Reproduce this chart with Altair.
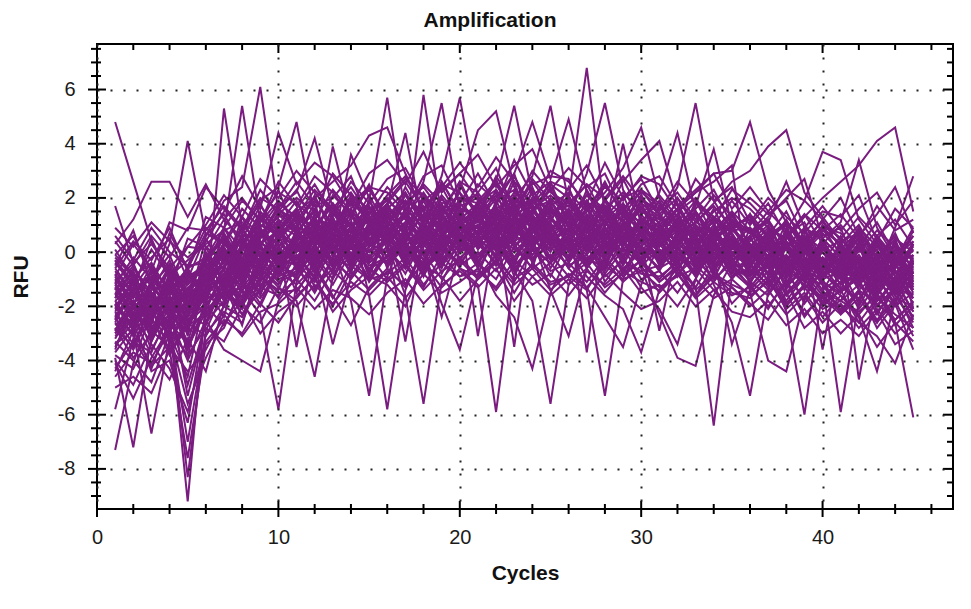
import altair as alt
import pandas as pd

# ---------------- data (RFU per cycle) ----------------
cycles = list(range(1, 46))

w01 = [4.8,2.6,0.4,-0.8,-1.2, -0.3,0.5,-0.6,1.2,0.8, 1.6,0.2,1.1,-0.4,0.9, 1.8,0.6,2.1,1.0,0.3, 1.5,2.2,0.7,1.9,1.2, 2.0,6.8,1.4,0.5,1.1, 0.2,1.0,-0.5,0.8,0.1, 0.6,-0.9,0.4,-0.2,-1.0, 0.3,-1.2,-0.4,-1.6,-0.7]
w02 = [-0.5,0.8,-1.2,0.3,4.1, 0.6,1.9,2.4,6.1,1.5, 2.3,0.9,1.7,0.2,1.3, 0.5,1.9,0.8,2.6,1.4, 0.6,1.8,2.9,0.9,1.7, 0.4,1.3,-0.2,0.8,1.6, 0.9,-0.4,0.6,1.1,-0.3, 0.2,0.9,-0.6,0.5,-0.8, -0.2,0.7,-1.1,0.1,-0.9]
w03 = [-2.8,-3.5,-1.9,-2.6,-9.2, -1.8,5.3,0.9,1.8,0.4, 1.4,-0.3,0.8,1.5,0.2, 1.1,0.3,1.6,-0.2,1.9, 2.1,0.6,1.3,2.4,0.8, 1.5,0.2,2.0,0.7,-0.4, 1.0,0.3,1.4,-0.6,0.5, -0.8,0.4,-1.3,0.9,-0.5, -1.4,0.2,-0.9,-1.9,-0.3]
w04 = [-7.3,-4.1,-2.2,-3.0,-4.6, -1.5,0.8,5.4,1.1,2.3, 0.6,1.8,-0.2,2.0,1.2, 0.4,2.2,1.1,0.3,2.5, 1.2,-0.3,2.0,1.4,2.6, 0.9,1.8,0.3,2.1,0.6, -0.2,1.3,0.4,-0.8,0.9, 0.1,-1.1,0.7,-0.4,0.3, -1.0,-0.2,-1.7,0.5,-1.3]
w05 = [-3.9,-7.2,-3.1,-1.7,-5.3, -2.6,-0.9,-1.8,-0.4,0.9, -0.5,1.2,0.3,-0.8,1.9, 5.7,1.4,0.2,1.7,0.5, 1.9,0.4,1.6,-0.3,1.0, -0.2,1.1,0.5,1.8,-0.5, 0.7,-0.9,0.2,1.0,-0.6, -1.2,0.3,-0.7,-1.8,0.2, -0.6,-1.9,-0.3,-1.1,-2.2]
w06 = [-4.4,-2.9,-6.7,-3.2,-2.1, -1.3,-2.4,0.2,-1.1,1.2, -0.7,0.9,1.8,0.4,-0.3, 1.5,0.6,5.8,1.3,2.2, 0.5,1.7,0.3,2.0,0.8, 1.6,0.2,1.2,-0.3,1.4, 0.5,1.6,-0.4,0.3,1.2, 0.8,-0.5,0.2,-1.4,-0.2, -0.9,0.4,-1.5,-0.6,0.2]
w07 = [-5.8,-3.2,-4.3,-2.5,-8.3, -2.9,-1.4,-2.1,0.3,-0.9, 0.8,-0.6,1.4,0.9,2.1, 0.9,2.4,1.2,2.8,5.7, 2.0,1.1,2.6,0.7,1.9, 0.7,2.3,1.1,0.4,2.0, 1.4,0.2,1.9,0.6,-0.1, 0.5,1.2,-0.4,0.8,-0.7, 0.1,-0.8,0.6,-0.4,-1.5]
w08 = [-1.2,-2.3,-0.6,-1.9,-2.7, -1.6,-0.2,-1.4,-2.3,-5.8, -1.1,0.3,-0.8,1.0,-0.4, 0.2,1.1,2.6,5.5,1.6, 1.3,2.7,0.8,1.5,2.3, 1.2,0.5,1.9,1.4,0.3, 1.7,0.8,0.1,1.3,0.7, -0.3,0.6,1.0,-0.9,0.4, -0.5,0.8,-0.2,-1.2,0.3]
w09 = [-0.8,-1.9,-2.5,-0.9,-3.1, 0.2,-1.2,0.7,1.9,2.4, 4.8,1.3,0.1,-1.8,-5.3, -0.9,0.8,-0.3,1.2,0.6, -0.4,0.9,1.8,0.3,1.1, 2.4,0.8,-0.1,1.3,0.9, -0.5,0.6,1.5,0.2,-0.8, 0.9,-0.2,0.6,1.1,-0.4, 0.6,-0.7,0.2,-0.3,0.9]
w10 = [-2.1,-1.0,-3.3,-1.6,-0.7, -1.9,0.4,-0.8,0.6,1.7, 2.2,4.2,1.6,0.5,1.9, 0.7,-0.4,1.3,0.4,-0.6, -1.2,-5.9,-0.8,0.6,-0.3, 0.6,-0.5,0.9,-0.2,1.3, 0.0,-0.7,0.8,-0.3,0.6, -0.4,-1.3,0.2,-0.8,-1.6, -1.1,-0.3,-2.0,-0.9,-1.7]
w11 = [-1.5,-2.6,-1.1,-3.4,-2.0, 0.5,-0.7,1.3,-0.2,1.0, 1.9,0.4,3.9,1.2,-1.6, -5.8,-1.4,0.3,-0.6,0.9, 0.2,1.6,-0.5,1.2,0.4, -0.3,0.9,1.6,0.1,0.7, 1.1,-0.2,0.5,1.6,0.3, -0.6,0.7,-0.9,0.2,-1.2, -1.8,-0.6,0.1,-1.3,-0.5]
w12 = [-3.6,-1.8,-2.7,-0.4,-3.9, -0.6,0.9,-0.3,1.4,-0.5, 0.7,1.6,0.2,3.6,2.0, 0.3,-1.6,-5.6,-1.1,0.2, 0.8,1.4,0.3,-0.6,1.5, 1.0,-0.4,0.8,1.5,0.0, 0.4,1.2,-0.3,0.6,1.4, 0.2,-0.4,1.1,0.3,-0.9, 0.4,-1.0,-0.4,0.7,-0.8]
w13 = [-1.1,-0.4,-2.0,-1.3,-2.4, -0.1,-1.5,0.4,-0.6,0.7, 1.5,2.0,2.6,3.2,4.3, 4.6,2.9,1.5,0.7,1.2, 0.1,0.8,-0.7,-1.8,-5.6, -1.2,0.4,-0.6,0.9,0.2, -0.7,0.5,-0.2,-1.0,0.4, -0.9,0.2,-0.5,-1.1,0.1, -0.3,-1.4,-0.8,0.3,-1.2]
w14 = [-2.3,-3.0,-1.5,-2.8,-1.7, -0.9,0.2,-1.0,0.9,-0.2, 0.3,-0.5,1.1,-0.1,0.8, 1.7,4.4,0.9,2.0,1.1, 1.6,0.2,1.1,2.2,0.5, 0.3,-1.4,-5.3,-1.0,0.5, 0.8,1.4,0.2,-0.4,0.9, 1.3,0.1,0.7,-0.6,0.5, -0.2,0.5,-0.9,-0.1,-1.4]
w15 = [-0.9,-2.1,-1.4,-0.3,-1.8, -1.1,0.7,-0.4,0.5,1.6, 0.9,2.1,0.6,1.4,0.2, 1.3,0.4,1.9,0.8,2.3, 4.5,5.2,2.4,1.1,1.9, 0.9,1.6,0.6,1.2,0.4, 0.5,-0.6,-1.3,-6.4,-0.9, -0.2,0.6,-0.8,0.3,-1.0, -0.7,0.2,-1.3,-0.5,-0.1]
w16 = [-1.7,-0.9,-2.8,-2.0,-3.3, -1.2,-0.3,0.6,-0.7,1.1, 0.1,1.4,0.8,2.1,1.0, 2.0,1.2,0.4,1.6,0.9, 1.7,2.6,5.4,2.1,1.4, 1.9,0.7,1.4,0.2,1.2, 0.6,1.1,-0.3,0.4,-0.7, -1.3,-0.5,-2.2,-6.0,-1.4, -0.4,-1.1,0.3,-0.9,-1.6]
w17 = [-2.5,-1.4,-0.8,-2.2,-1.0, -0.4,-1.3,0.1,0.8,-0.6, 0.5,-0.2,1.5,0.3,1.7, 0.1,1.5,0.6,-0.2,1.3, 0.7,1.2,2.0,2.8,5.4, 1.8,1.0,0.4,1.7,0.8, 1.3,0.3,0.9,-0.2,0.6, -0.5,0.4,-0.9,-0.3,-1.2, -5.9,-1.8,-0.6,-1.4,-0.4]
w18 = [-1.9,-2.7,-1.0,-1.6,-2.9, -0.7,-1.8,-0.5,0.4,-0.3, 0.2,0.8,-0.4,0.7,1.3, 0.9,2.1,1.3,0.5,1.8, 1.1,2.0,2.9,4.8,2.7, 4.9,2.2,1.0,1.6,0.6, 0.2,1.0,0.5,-0.5,0.3, -0.7,-1.4,-0.2,-1.0,-1.9, -0.8,-2.1,-1.2,-2.6,-6.1]
w19 = [-1.0,-1.7,-0.5,-2.4,-1.5, -0.2,0.6,-0.9,0.3,0.8, -0.3,0.6,0.9,-0.5,0.4, 1.0,-0.1,0.7,1.5,0.2, 1.4,0.5,1.7,0.9,2.0, 1.3,2.9,5.5,2.3,1.2, 0.7,-0.3,0.4,-1.2,-2.6, -5.3,-1.5,-0.6,-1.2,0.2, -0.9,-0.2,-1.6,-0.7,-1.9]
w20 = [-2.2,-1.1,-2.9,-1.4,-0.6, -1.7,-0.6,0.9,-0.5,0.2, 0.9,-0.4,0.3,1.1,-0.2, 0.5,-1.2,0.1,-1.9,-3.6, -0.8,0.7,1.2,-0.4,0.9, 0.8,1.5,2.2,3.1,4.6, 2.0,1.1,0.6,1.3,0.1, 0.4,1.0,-0.3,0.6,-0.5, 0.2,-0.9,0.5,-0.6,0.8]
w21 = [-1.3,-2.2,-3.0,-1.1,-2.6, -2.0,-1.0,-1.9,-0.6,-1.3, -1.8,-4.6,-0.9,0.4,-0.7, 0.8,0.3,-0.5,1.1,0.6, 0.3,1.5,0.7,1.8,0.2, 1.1,0.0,1.5,0.8,1.6, 1.2,2.4,5.5,1.9,0.8, 0.3,-0.6,0.8,-0.2,-0.9, -0.4,0.5,-0.8,-1.5,-0.1]
w22 = [-0.6,-1.5,-1.8,-2.9,-2.3, -1.4,0.1,-0.7,1.3,0.5, 1.1,-0.8,0.5,0.9,1.4, -0.6,0.7,-0.3,0.5,1.4, -0.3,-1.6,-2.4,-4.3,-1.5, -0.1,0.6,-0.5,1.1,-0.3, 0.9,1.6,2.2,2.9,3.0, 4.8,2.3,1.1,0.4,0.9, -0.1,0.7,-0.6,0.1,-0.8]
w23 = [-1.6,-0.7,-2.3,-1.8,-0.9, -0.5,-1.7,0.3,-0.4,0.6, -0.6,0.7,-0.3,1.6,0.5, 0.4,1.6,0.9,-0.4,0.7, 0.9,-0.2,0.5,1.3,-0.6, 0.4,1.2,-0.2,0.6,1.9, -0.1,0.5,1.1,1.8,2.6, 3.0,3.9,4.5,2.2,1.3, 0.4,-4.7,-1.1,-0.3,-1.0]
w24 = [-2.0,-2.8,-1.2,-0.5,-2.2, -0.8,-0.1,-1.2,0.7,-0.4, 0.6,-0.1,1.3,-0.3,0.9, -0.2,0.9,-0.7,0.4,1.0, 0.5,-0.5,0.9,0.2,1.1, -0.4,0.6,-1.1,-0.2,-1.3, -2.1,-3.4,-1.0,0.3,-0.5, 0.1,-0.8,0.5,1.3,2.0, 2.6,3.2,4.1,4.6,1.5]
w25 = [-1.4,-0.5,-1.7,-2.7,-1.1, -0.3,0.5,-1.1,0.2,-0.8, 0.4,1.0,-0.6,0.3,1.5, 0.6,-0.3,1.0,0.2,-0.4, 0.4,0.9,-0.9,0.5,-1.4, -3.1,-0.6,0.4,-0.8,0.5, -0.4,0.7,-0.6,0.5,1.1, 0.7,1.5,2.3,1.9,3.7, 3.4,1.2,0.3,-0.4,0.6]
w26 = [-2.6,-1.3,-0.4,-2.1,-1.6, -1.0,-2.0,-0.2,-1.3,0.1, -1.5,-0.4,-3.4,-0.9,0.1, -0.4,0.5,1.4,0.0,0.8, 1.0,0.1,1.4,0.6,0.3, 0.5,1.9,0.7,-0.4,0.9, 0.3,-0.5,0.8,0.0,-1.0, -0.2,0.8,0.1,-0.7,0.5, 1.1,3.4,0.9,-0.2,0.4]
w27 = [-0.7,-1.6,-0.9,-1.5,-0.8, -0.9,-0.4,0.5,-0.9,0.4, -0.2,0.5,0.7,-0.6,0.6, 1.2,0.0,0.5,0.9,-0.3, 0.6,0.3,-0.4,1.0,0.7, 0.1,-0.9,-1.6,-2.1,-3.7, -1.4,-0.6,0.1,-0.7,0.2, -0.1,-0.6,0.3,-0.5,0.0, -0.6,0.3,-0.7,0.9,2.8]
w28 = [-3.2,-2.0,-1.6,-0.7,-1.9, -1.6,-0.8,-0.1,0.1,-0.4, 0.0,0.9,-0.1,0.6,-0.5, -0.2,0.4,0.8,-0.8,0.4, -0.1,0.6,0.1,-0.3,0.4, -0.6,-1.3,-2.4,-3.5,-1.2, 0.3,0.9,1.7,3.8,1.0, 0.0,-0.3,0.6,-0.4,0.2, -0.3,0.9,-0.5,0.2,-0.6]
w29 = [-1.8,-1.2,-2.4,-0.8,-1.4, -0.2,-1.1,0.0,-0.8,0.5, 0.3,-0.7,0.4,0.1,0.7, 0.9,0.1,-0.6,0.3,0.8, 1.2,0.4,0.0,0.7,1.3, 0.2,0.9,1.3,2.6,3.4, 4.1,1.8,0.2,-0.5,0.0, -1.1,-0.3,-1.6,-0.7,-2.0, -1.4,-2.6,-3.1,-4.1,-2.3]
w30 = [-2.4,-3.4,-2.0,-1.2,-3.5, -2.2,-0.5,-1.5,0.8,-0.1, 0.5,1.2,-0.1,0.5,0.8, 0.6,1.3,0.2,1.0,0.4, 0.8,1.1,0.6,1.6,0.5, 1.5,0.3,0.9,4.0,1.0, 2.2,4.4,1.5,0.6,0.3, -0.4,0.3,-0.7,0.1,-1.1, -1.6,-2.4,-4.4,-1.8,-0.6]
w31 = [-1.1,-2.4,-1.5,-3.3,-2.8, -1.5,-0.3,-0.8,1.0,0.6, 1.2,0.2,1.0,-0.2,1.1, 0.3,1.0,0.5,1.3,0.7, 0.2,1.3,0.4,0.8,0.0, 1.4,0.5,1.1,0.3,-0.2, 0.8,1.6,2.2,2.6,3.2, -1.5,-4.0,-4.4,-1.7,-0.6, -0.2,-1.0,0.4,-0.7,-1.1]
w32 = [-0.3,-1.1,-2.6,-1.0,-2.0, -0.6,0.3,-0.4,0.5,1.4, 0.7,0.0,0.9,1.9,0.3, 1.5,0.7,1.7,0.6,1.1, 1.6,0.7,1.9,0.4,1.2, 0.6,1.4,0.5,1.0,-0.6, -2.3,-3.9,-4.2,-1.6,-0.4, 0.6,1.3,2.0,2.7,0.5, -0.8,0.1,-0.5,-1.0,0.4]
w33 = [-3.0,-2.4,-3.8,-4.7,-3.2, -4.4,-1.9,-0.6,-1.6,0.2, -0.5,0.8,0.1,0.8,-0.9, 0.7,-0.5,0.9,0.1,1.5, 1.5,0.0,1.0,1.7,0.6, 0.3,0.8,1.7,0.5,0.7, -0.3,0.4,1.0,0.1,0.8, 0.9,0.0,-0.8,0.4,-0.3, -1.2,0.1,-0.3,-1.8,-0.9]
w34 = [-2.9,-1.9,-3.6,-2.4,-4.0, -2.5,-3.6,-4.0,-4.4,-1.8, -0.9,0.5,-0.5,1.0,-0.8, 0.8,-0.2,1.1,-0.3,0.6, -0.5,0.9,0.2,1.0,-0.2, 0.9,-0.3,0.2,1.1,-0.1, 0.4,-0.4,0.6,-0.9,0.2, -0.6,0.5,-1.1,-0.5,-1.4, -0.9,-0.4,-1.8,-1.1,-0.3]
w35 = [-5.0,-4.6,-5.2,-3.6,-7.6, -3.4,-2.8,-1.2,-2.0,-0.6, -0.1,-1.0,0.6,-0.4,0.4, 1.4,0.2,-0.4,1.4,0.1, 1.8,1.0,-0.2,0.8,1.6, 1.1,0.1,0.9,-0.5,0.8, 1.0,0.0,-0.8,0.7,1.5, 0.2,-0.8,0.9,-0.1,1.0, 0.5,-0.3,-1.1,0.4,-2.1]
w36 = [-4.1,-5.4,-3.9,-2.8,-7.0, -3.0,-2.2,-2.6,-0.9,-1.4, 0.3,-1.3,-0.6,0.2,-1.0, -0.1,0.8,-0.9,0.6,1.7, 0.1,1.9,0.6,2.3,1.3, 2.1,0.9,1.6,1.2,0.1, -0.6,0.8,-0.1,0.9,-0.4, -0.8,0.2,-1.4,0.6,-0.7, -1.5,-0.5,-2.2,-1.4,-2.8]
w37 = [-3.4,-2.6,-4.4,-4.0,-6.3, -2.3,-1.2,-2.7,-0.3,-1.1, -0.8,0.6,-0.3,-0.5,0.7, 1.6,-0.6,0.6,2.0,0.8, 0.9,2.3,1.3,0.2,1.8, 0.2,1.7,-0.4,0.9,2.1, 0.6,2.0,0.9,0.3,-0.2, 1.4,-0.3,0.4,-1.1,0.6, 0.9,-0.9,-0.1,-1.6,-0.4]
w38 = [1.7,-0.4,0.3,-0.6,0.2, 1.0,2.1,1.3,2.7,2.0, 3.0,2.2,1.4,2.6,1.8, 2.7,3.1,1.9,2.4,3.3, 2.4,3.5,2.6,1.8,3.0, 2.6,1.8,3.3,2.0,2.7, 1.5,2.6,1.8,1.2,2.3, 1.8,1.1,2.6,0.9,1.7, 0.8,1.6,2.2,1.0,1.9]
w39 = [0.9,0.2,1.1,0.4,-0.2, 0.4,1.5,2.8,1.6,4.4, 2.5,3.3,2.8,1.7,2.9, 3.4,2.5,3.7,2.2,2.9, 3.6,2.4,3.2,3.8,2.3, 3.1,2.4,2.9,1.5,2.5, 2.8,1.7,2.3,2.9,1.6, 2.4,1.5,0.8,1.9,1.2, 2.0,0.6,1.4,2.4,0.7]
w40 = [0.3,1.2,2.6,2.6,1.3, 2.5,1.2,2.0,1.1,2.6, 1.7,2.8,2.2,1.3,2.4, 2.2,1.5,2.8,3.2,1.8, 2.9,1.7,3.4,2.1,2.6, 2.3,3.2,1.9,2.7,1.4, 2.1,1.3,2.7,1.9,2.4, 1.1,2.0,1.3,0.7,1.5, 1.3,2.1,0.4,1.6,0.9]
w41 = [-0.1,0.6,-0.7,1.1,0.8, 2.4,1.6,0.8,2.3,1.4, 2.0,1.5,2.9,2.1,1.6, 1.9,2.7,2.1,1.4,2.6, 2.2,3.1,1.5,2.7,1.9, 1.7,2.5,2.0,2.8,1.9, 1.6,2.2,1.2,2.1,1.3, 2.0,1.4,1.9,0.5,1.1, 0.5,1.3,0.6,1.2,0.2]
w42 = [-3.8,-4.3,-2.9,-3.5,-4.4, -3.6,-2.3,-3.1,-2.2,-1.9, -1.3,-2.1,-1.4,-1.7,-2.3, -1.5,-1.0,-1.9,-1.2,-0.7, -1.3,-0.6,-1.8,-0.9,-1.6, -1.0,-1.7,-0.8,-1.5,-2.1, -1.8,-1.1,-2.0,-1.4,-2.2, -2.4,-1.8,-2.7,-2.1,-3.0, -2.5,-3.1,-2.2,-3.4,-2.9]
w43 = [-4.6,-3.7,-4.1,-2.9,-3.8, -2.8,-3.3,-2.0,-2.6,-1.3, -2.0,-1.2,-1.9,-1.1,-1.6, -0.9,-1.7,-0.8,-1.5,-1.1, -0.6,-1.4,-0.5,-1.2,-0.8, -1.6,-0.7,-1.2,-0.6,-1.5, -1.2,-2.0,-1.0,-1.7,-1.3, -1.9,-2.5,-1.5,-2.8,-2.2, -3.0,-2.3,-3.5,-2.6,-3.3]
w44 = [-3.3,-4.0,-4.8,-3.0,-5.6, -3.9,-2.6,-1.8,-3.0,-2.2, -1.7,-0.9,-2.2,-1.4,-0.9, -1.2,-2.0,-0.5,-0.9,-1.8, -1.0,-0.3,-1.5,-0.4,-1.1, -0.9,-1.4,-0.3,-1.1,-0.5, -1.5,-0.8,-1.6,-0.5,-1.9, -1.2,-2.1,-1.0,-2.3,-1.6, -2.2,-1.4,-2.8,-1.9,-3.6]
w45 = [-1.4,-0.8,-2.1,-1.2,-1.9, -0.7,0.1,-0.6,0.8,0.3, -3.5,0.3,1.2,0.5,0.0, 1.1,0.5,1.4,0.9,1.5, 0.7,1.4,1.1,0.5,1.6, 1.0,0.4,1.2,0.7,0.2, 0.9,0.1,0.7,0.4,-0.3, 0.3,-0.4,0.1,-0.8,0.4, -0.7,-0.1,-1.0,-0.5,-1.2]
w46 = [-2.0,-1.4,-1.0,-2.5,-1.3, -1.1,-0.5,0.2,-0.3,1.0, 0.6,1.1,0.0,1.3,0.7, 0.3,-3.3,0.6,1.8,0.4, 1.2,0.6,1.5,1.1,0.4, 1.3,0.6,0.1,1.0,0.7, 0.2,0.8,-0.2,0.5,0.9, -0.1,0.7,-0.5,0.2,-0.6, -0.3,-1.1,-0.2,-0.8,0.1]
w47 = [-1.0,-1.9,-1.3,-2.0,-0.5, -0.4,-1.0,0.3,0.0,-0.2, 0.4,-0.3,0.7,1.1,0.2, 0.8,0.2,1.0,0.3,1.2, 0.3,1.0,-3.5,1.3,0.6, 0.7,1.3,0.3,0.6,1.1, -0.1,0.6,0.3,-0.4,0.5, -0.3,0.4,-0.9,0.0,-0.4, -1.0,-0.6,-1.4,-0.2,-1.1]
w48 = [-2.7,-2.1,-1.8,-1.4,-2.5, -1.9,-1.3,-0.8,-1.0,0.0, -0.3,0.4,0.5,-0.2,0.3, 0.0,0.6,-0.1,-2.4,0.1, 0.5,-0.1,0.8,0.3,0.9, 0.0,0.5,-0.3,0.4,-0.2, 0.1,-0.3,0.2,-0.6,-0.1, -0.5,-1.0,-0.3,-1.3,-0.8, -1.3,-1.7,-0.9,-2.0,-1.5]
w49 = [-0.4,-1.2,0.1,-0.9,-0.3, 0.3,0.8,1.1,0.6,1.3, 1.4,0.9,1.8,1.0,1.5, 1.9,1.3,2.2,1.2,1.7, 2.0,1.3,2.2,1.6,2.1, 1.5,-3.7,1.2,1.8,1.0, 1.4,0.7,1.1,0.8,1.5, 0.8,0.3,1.2,0.0,0.7, 0.0,-0.5,0.5,-0.3,-0.9]
w50 = [-1.5,-1.0,-1.7,-0.6,-1.2, -0.5,-0.2,0.4,1.0,0.7, 0.2,1.0,0.4,0.8,1.2, 1.4,0.8,0.3,1.0,1.4, -3.1,0.8,1.3,1.9,1.0, 0.8,1.1,0.6,0.3,0.9, 0.5,1.0,0.0,0.6,0.3, 0.0,-0.5,0.3,-0.3,-0.9, -0.5,0.2,-0.7,-1.2,-0.4]
w51 = [-2.9,-1.6,-2.2,-1.9,-0.8, -1.3,0.0,-0.5,0.3,0.1, -0.4,0.1,-0.7,0.6,0.0, 0.5,-0.2,0.4,-0.5,0.3, -0.2,0.3,-0.6,0.1,-0.4, 0.2,-0.3,0.6,-0.1,0.4, -2.9,0.2,-0.8,0.0,-0.6, -0.9,-0.1,-1.2,-0.6,-1.5, -1.8,-1.2,-2.0,-1.3,-2.4]
w52 = [-0.2,-0.9,-0.4,-1.5,-0.6, 0.7,0.3,1.6,0.9,1.8, 1.3,2.3,1.6,2.4,1.4, 2.4,1.7,2.5,1.8,2.0, 1.8,2.5,1.4,2.6,1.7, 2.2,1.5,2.6,1.3,2.3, 1.8,1.0,1.6,2.3,1.0, 1.2,0.6,1.5,0.2,0.9, 0.3,1.0,-0.2,0.6,-0.4]
w53 = [-3.1,-2.5,-3.3,-2.0,-3.0, -2.1,-1.6,-1.3,-0.5,-1.0, -0.7,-0.1,-1.0,0.2,-0.6, -0.3,0.3,-0.8,0.2,-0.5, 0.0,-0.7,0.4,-0.2,0.2, -0.5,-0.1,-0.9,-0.3,-0.8, -0.9,-0.4,-1.3,-0.2,-3.4, -1.4,-0.7,-1.9,-1.2,-1.8, -2.1,-1.5,-2.5,-1.7,-2.0]
w54 = [-1.8,-2.8,-2.4,-1.7,-2.9, -1.0,-0.7,-0.9,0.2,-0.5, 0.8,-0.6,0.6,-0.3,1.0, -0.5,0.6,-0.1,0.8,0.0, 0.8,0.1,1.2,-0.1,0.6, -0.3,0.9,0.0,0.6,0.4, -0.2,0.4,-0.5,0.2,0.7, -0.7,-0.2,-1.0,0.3,-3.6, -0.1,-1.3,0.0,-0.9,-1.7]
w55 = [-0.6,0.4,-0.3,0.9,-0.7, 1.3,0.9,1.9,1.2,2.2, 1.8,1.2,2.3,1.5,1.0, 1.6,2.2,1.1,2.1,1.3, 2.5,1.9,2.3,1.4,2.4, 1.4,2.1,1.6,2.2,1.5, 1.1,1.8,0.6,1.5,2.0, 1.6,0.9,0.5,1.4,0.3, 1.0,0.2,1.1,-0.1,0.6]
w56 = [-2.2,-3.1,-2.0,-3.7,-2.6, -1.6,-2.0,-1.1,-1.7,-0.7, -1.2,-0.5,-1.6,-2.7,-1.3, -0.6,-1.3,0.0,-1.0,-0.2, -0.9,-0.1,-1.1,0.1,-0.7, -0.4,-1.1,-0.2,-0.9,-0.3, -1.0,-0.3,-1.4,-0.8,-1.5, -1.7,-1.0,-2.1,-1.5,-2.4, -1.6,-2.3,-1.5,-2.7,-2.0]
w57 = [0.4,-0.5,0.6,-0.2,0.9, 0.8,1.7,0.9,2.0,1.6, 2.6,1.7,2.0,2.8,1.1, 1.8,2.6,1.6,2.5,2.2, 1.4,2.8,1.8,2.5,2.8, 2.7,1.6,2.4,1.9,2.8, 2.5,1.5,2.0,1.0,1.9, 1.0,1.8,0.6,1.4,0.8, 1.4,0.5,1.7,0.8,1.2]
w58 = [-2.4,-1.3,-3.0,-2.3,-1.5, -2.4,-1.5,-1.6,-1.2,-0.9, -0.6,-1.4,-0.2,-1.0,-0.1, -1.0,-0.4,-1.3,-0.1,-0.9, -0.4,-1.0,0.2,-0.6,-0.1, -0.9,-0.2,-0.6,0.2,-1.0, -0.7,-1.5,-0.5,-1.1,-0.2, -1.1,-1.6,-0.6,-1.9,-1.0, -2.3,-1.7,-2.6,-1.2,-2.5]
w59 = [-1.2,-0.2,-1.0,-0.1,-1.7, 0.0,-0.9,0.7,-0.1,0.9, 0.0,0.6,1.0,0.4,0.9, 0.6,1.1,0.0,0.6,0.3, 1.0,0.2,0.6,1.4,0.4, 0.5,-0.1,0.8,0.0,0.6, 0.0,0.4,-0.4,0.3,-0.2, 0.5,-0.2,0.2,-0.5,0.1, -0.4,0.3,-0.6,0.0,-0.5]
w60 = [-3.5,-2.3,-2.7,-3.2,-2.3, -2.7,-1.1,-2.3,-1.4,-0.3, -1.0,-0.2,-1.2,0.0,-0.4, 0.2,-0.8,0.5,-0.4,0.5, -0.6,0.5,-0.3,0.4,-0.9, 0.4,-0.6,0.3,-0.7,0.1, -0.3,0.3,-0.9,0.5,-0.5, -1.0,-0.4,-1.6,-0.9,-0.2, -1.2,-0.7,-1.4,-2.0,-1.0]
w61 = [-2.0,-1.1,-2.6,-0.8,-2.8, -1.2,0.4,-0.3,1.1,1.9, 1.2,2.0,0.9,1.8,2.4, 1.3,2.1,1.0,2.6,1.5, 2.2,1.2,2.8,1.6,1.9, 1.0,2.1,1.4,0.8,1.7, 0.6,1.4,0.3,1.2,0.5, -0.2,0.8,-0.6,0.4,-0.9, -0.4,0.6,-1.2,-0.3,-0.8]
w62 = [-3.7,-2.8,-1.9,-2.6,-3.4, -2.0,-2.7,-1.4,-0.8,-1.7, -0.4,-1.1,0.2,-0.7,0.4, -0.5,0.2,-0.9,0.5,-0.2, 0.3,-0.4,0.7,-0.1,0.5, -0.6,0.2,-0.8,0.1,-0.4, -1.1,-0.5,-1.6,-0.9,-1.3, -2.0,-1.4,-2.3,-1.6,-2.6, -1.9,-2.8,-2.1,-3.0,-2.4]
w63 = [-0.3,-1.4,0.5,-1.0,0.2, 0.1,1.2,0.5,1.7,0.9, 1.6,2.5,1.4,2.2,1.2, 2.1,2.8,1.6,2.3,2.9, 1.9,2.6,1.7,3.0,2.2, 1.8,2.5,1.3,2.0,2.3, 1.4,2.0,1.1,1.7,0.9, 1.3,0.5,1.0,0.3,1.2, 0.1,0.8,-0.3,0.5,0.0]
w64 = [-2.6,-3.6,-2.2,-3.1,-2.4, -1.5,-1.0,-2.0,-0.6,-1.2, -0.1,-0.9,0.3,-0.3,-1.0, 0.1,-0.6,0.5,-0.4,0.7, -0.2,0.6,-0.5,0.2,0.8, -0.3,0.4,-0.7,0.5,-0.5, 0.1,-0.8,-0.2,-1.0,-0.4, -1.3,-0.5,-1.8,-0.9,-1.2, -2.2,-1.4,-1.9,-2.5,-1.8]
w65 = [-1.7,-0.6,-1.5,-2.3,-0.9, -0.8,-0.1,0.8,0.2,1.5, 0.8,0.1,1.7,0.9,0.4, 1.6,0.9,2.0,1.1,0.6, 1.7,0.9,2.1,1.2,0.7, 1.9,1.1,0.5,1.4,0.8, 0.4,1.2,0.6,-0.1,0.9, 0.2,-0.3,0.7,-0.7,0.0, -0.9,0.1,-0.6,-1.3,-0.2]
w66 = [-4.3,-3.3,-3.7,-2.2,-4.9, -2.6,-1.8,-0.9,-1.9,-0.4, -0.9,0.2,-0.4,0.6,-0.3, 0.4,-0.3,0.9,0.1,-0.5, 0.6,-0.2,1.0,0.2,-0.4, 0.5,-0.4,0.4,-0.2,0.7, -0.4,0.1,-0.6,0.3,-0.9, -0.6,-1.2,-0.3,-1.0,-1.7, -1.1,-2.0,-0.8,-1.6,-2.6]
w67 = [0.1,-1.0,-0.2,0.5,-1.0, 0.6,1.4,0.2,1.5,0.8, 1.5,0.7,2.1,1.4,2.5, 1.0,1.8,2.4,1.5,2.6, 1.3,2.1,1.0,1.8,2.5, 2.0,1.2,2.5,1.5,1.1, 1.9,0.9,1.5,0.6,1.3, 0.7,1.2,0.2,0.9,0.5, -0.2,0.9,0.2,-0.6,0.3]
w68 = [-2.3,-1.8,-3.2,-1.3,-2.0, -1.8,-1.1,-0.4,-1.5,-0.6, -0.8,0.0,-0.5,0.3,-1.1, -0.1,0.4,-0.6,0.7,0.0, 0.4,-0.4,0.9,0.1,0.3, 0.1,-0.5,0.5,-0.3,-0.7, -0.5,0.0,-0.9,0.1,-0.4, -0.8,-0.1,-1.3,-0.6,-1.1, -1.5,-0.8,-1.8,-1.0,-2.2]
w69 = [-1.3,-2.5,-1.7,-0.5,-1.6, -0.6,0.0,-1.1,0.4,-0.3, 0.5,1.3,0.2,0.9,1.7, 0.7,1.5,0.2,1.1,0.8, 1.3,0.4,1.7,0.8,1.3, 0.6,1.0,1.9,0.5,1.2, 0.8,0.2,1.0,0.4,1.2, 0.3,-0.2,0.6,-0.5,0.2, -0.6,-0.2,-1.2,-0.4,-0.7]
w70 = [-3.0,-2.0,-2.4,-3.8,-2.7, -2.3,-1.4,-2.0,-0.9,-1.5, -1.4,-0.6,-1.7,-0.5,-1.0, -0.8,-0.2,-1.2,-0.4,-0.9, -0.7,-1.3,-0.3,-0.9,-0.4, -1.2,-0.6,-1.5,-0.7,-1.1, -1.4,-0.8,-1.7,-1.1,-1.6, -1.3,-2.0,-1.1,-2.4,-1.5, -2.0,-2.6,-1.7,-2.3,-2.8]
w71 = [-0.9,0.3,-0.6,-1.4,0.5, 0.2,-0.4,1.0,0.3,1.2, 0.7,1.5,0.6,1.9,1.1, 1.7,0.9,1.9,0.7,2.0, 1.6,1.0,2.0,1.3,0.8, 1.6,0.9,1.7,1.1,2.1, 1.0,1.6,0.7,1.3,0.3, 0.9,0.4,1.1,0.1,0.8, 0.3,-0.4,0.6,-0.2,0.1]
w72 = [-2.8,-3.9,-3.0,-1.9,-3.6, -1.9,-1.3,-2.3,-1.1,-0.2, -0.5,-1.5,-0.3,-0.9,0.1, -0.4,0.3,-0.6,-0.1,0.6, -0.3,0.2,-0.7,0.5,-0.2, 0.3,-0.4,0.2,-0.6,0.0, -0.6,-0.2,-0.7,0.1,-0.3, -0.9,-0.4,-1.5,-0.8,-1.9, -1.4,-1.0,-2.3,-1.2,-1.7]
w73 = [-1.6,-1.9,-0.7,-1.8,-2.1, -0.4,0.6,-0.5,0.9,0.0, 1.0,0.4,1.3,-0.2,1.1, 0.8,1.4,0.4,1.7,0.9, 1.1,1.7,0.5,1.5,0.9, 1.3,0.7,1.7,0.4,1.0, 0.3,0.9,0.2,0.7,-0.1, 0.1,0.6,-0.3,0.4,-0.4, -0.1,-0.7,0.3,-0.5,-0.9]
w74 = [-3.4,-2.9,-4.2,-3.5,-2.6, -3.1,-2.0,-2.4,-1.3,-1.6, -1.0,-1.8,-0.7,-1.3,-0.6, -1.1,-0.5,-1.4,-0.7,-0.3, -1.0,-0.4,-1.2,-0.6,-1.4, -0.8,-1.3,-0.5,-1.0,-0.7, -1.3,-0.9,-0.6,-1.4,-1.0, -1.6,-1.1,-1.9,-1.3,-2.1, -1.8,-2.2,-1.6,-2.5,-1.9]
w75 = [0.6,-0.3,0.9,0.0,-0.5, 0.9,0.3,1.3,0.6,1.6, 1.1,1.9,1.0,1.6,2.3, 1.3,1.9,1.5,2.4,1.2, 1.8,2.3,1.2,2.0,1.6, 1.2,1.9,1.0,1.6,2.2, 1.7,1.1,1.9,1.3,0.8, 1.4,0.6,1.1,0.4,0.9, 0.7,0.0,0.8,0.2,-0.2]
w76 = [-2.5,-1.5,-2.0,-2.9,-1.8, -1.4,-0.8,-1.7,-0.2,-0.9, 0.1,-0.4,0.6,-0.1,0.5, 0.9,0.2,0.8,0.0,1.1, 0.4,1.1,0.2,0.8,0.1, 0.6,0.0,0.9,0.3,-0.2, 0.6,-0.1,0.4,-0.3,0.2, -0.4,0.1,-0.7,-0.2,-0.6, -0.8,-1.2,-0.5,-1.0,-1.3]
w77 = [-1.9,-2.9,-1.4,-1.1,-2.3, -0.9,-1.6,-0.2,-0.4,0.3, -0.2,0.7,-0.4,0.4,0.9, 0.4,1.0,0.6,0.2,1.0, 0.9,0.3,1.2,0.6,0.3, 0.9,0.3,1.1,0.6,0.1, 0.5,0.9,-0.1,0.6,0.0, 0.2,-0.4,0.3,-0.7,-0.2, -0.5,-1.0,-0.3,-0.7,-1.4]
w78 = [-4.0,-4.9,-3.4,-4.3,-5.9, -3.3,-2.5,-3.0,-1.9,-2.6, -1.6,-1.0,-2.0,-0.7,-1.4, -0.7,-1.2,-0.4,-1.3,-0.6, -0.9,-0.3,-1.0,-0.5,-1.2, -0.9,-0.4,-1.3,-0.8,-0.3, -1.1,-0.6,-1.6,-0.8,-1.2, -1.5,-0.9,-2.0,-1.2,-1.7, -2.3,-1.5,-2.6,-1.8,-3.1]
w79 = [-0.1,-0.8,-1.2,0.7,-0.6, -0.2,0.9,0.1,1.4,0.6, 1.3,0.6,1.5,0.9,1.6, 1.2,1.7,0.8,1.4,1.8, 1.2,1.6,2.0,1.1,1.5, 1.7,1.1,1.4,0.9,1.8, 1.3,0.8,1.4,0.5,1.0, 0.7,1.1,0.2,0.6,0.1, 0.4,0.7,-0.2,0.3,-0.3]
w80 = [-2.1,-2.4,-1.2,-2.0,-1.4, -1.6,-0.9,-1.2,0.0,-0.7, 0.3,-0.2,0.6,-0.4,0.2, 0.6,-0.1,0.8,0.3,0.9, 0.2,0.7,-0.2,0.6,0.4, 0.3,0.8,-0.1,0.5,0.2, -0.2,0.4,-0.4,0.2,-0.6, -0.3,-0.8,-0.1,-1.0,-0.6, -0.9,-0.4,-1.3,-0.7,-1.1]

wells = [w01, w02, w03, w04, w05, w06, w07, w08, w09, w10,
         w11, w12, w13, w14, w15, w16, w17, w18, w19, w20,
         w21, w22, w23, w24, w25, w26, w27, w28, w29, w30,
         w31, w32, w33, w34, w35, w36, w37, w38, w39, w40,
         w41, w42, w43, w44, w45, w46, w47, w48, w49, w50,
         w51, w52, w53, w54, w55, w56, w57, w58, w59, w60,
         w61, w62, w63, w64, w65, w66, w67, w68, w69, w70,
         w71, w72, w73, w74, w75, w76, w77, w78, w79, w80]

x_labels = [0, 10, 20, 30, 40]
y_labels = [-8, -6, -4, -2, 0, 2, 4, 6]
x_ticks = [0, 2, 4, 6, 8, 10, 12, 14, 16, 18, 20, 22, 24, 26, 28, 30, 32, 34, 36, 38, 40, 42, 44, 46]
y_ticks = [-9.0, -8.5, -8.0, -7.5, -7.0, -6.5, -6.0, -5.5, -5.0, -4.5, -4.0, -3.5, -3.0, -2.5, -2.0, -1.5,
           -1.0, -0.5, 0.0, 0.5, 1.0, 1.5, 2.0, 2.5, 3.0, 3.5, 4.0, 4.5, 5.0, 5.5, 6.0, 6.5, 7.0, 7.5]

# ---------------- build tables ----------------
rows = []
for k, series in enumerate(wells):
    for i, v in enumerate(series):
        rows.append({"well": k + 1, "cycle": cycles[i], "rfu": v})
df = pd.DataFrame(rows)

xt = pd.DataFrame({"t": x_ticks, "major": [t in x_labels for t in x_ticks]})
yt = pd.DataFrame({"t": y_ticks, "major": [t in y_labels for t in y_ticks]})

W, H = 856, 465
PURPLE = "#7a1b80"
FONT = "Liberation Sans"
xs = alt.Scale(domain=[0, 47.19], nice=False, zero=False)
ys = alt.Scale(domain=[-9.48, 7.68], nice=False, zero=False)

common = dict(grid=True, gridColor="#222222", gridDash=[2, 11], gridWidth=2,
              domain=False, ticks=False, tickSize=0, labelFont=FONT, labelFontSize=20,
              labelColor="#1a1a1a", titleFont=FONT, titleFontSize=21,
              titleFontWeight="bold", titleColor="#111111", zindex=1,
              labelExpr="datum.value + ''", titleAlign="center",
              titleBaseline="alphabetic", labelFlush=False, labelOverlap=False)

x_axis = alt.Axis(values=x_labels, title="Cycles", labelPadding=18,
                  titleX=W / 2, titleY=70, **common)
y_axis = alt.Axis(values=y_labels, title="RFU", labelPadding=22,
                  titleX=-70, titleY=H / 2, titleAngle=-90, **common)

lines = alt.Chart(df).mark_line(color=PURPLE, strokeWidth=2, strokeJoin="miter").encode(
    x=alt.X("cycle:Q", scale=xs, axis=x_axis),
    y=alt.Y("rfu:Q", scale=ys, axis=y_axis),
    detail="well:N",
)

def xtick(y0, y1, major):
    return alt.Chart(xt).transform_filter(
        alt.datum.major == major
    ).mark_rule(color="black", strokeWidth=2).encode(
        x=alt.X("t:Q", scale=xs, axis=x_axis), y=alt.value(y0), y2=alt.value(y1))

def ytick(x0, x1, major):
    return alt.Chart(yt).transform_filter(
        alt.datum.major == major
    ).mark_rule(color="black", strokeWidth=2).encode(
        y=alt.Y("t:Q", scale=ys, axis=y_axis), x=alt.value(x0), x2=alt.value(x1))

ticks = [
    xtick(H - 5, H + 5, False), xtick(H - 8, H + 8, True),
    xtick(0, 6, False), xtick(0, 9, True),
    ytick(-6, 4, False), ytick(-9, 9, True),
    ytick(W - 6, W, False), ytick(W - 10, W, True),
]

chart = alt.layer(lines, *ticks).properties(
    width=W, height=H,
    background="white",
    title=alt.TitleParams("Amplification", font=FONT, fontSize=21, fontWeight="bold",
                          color="#111111", anchor="middle", dx=-35, offset=-5,
                          baseline="alphabetic"),
    autosize=alt.AutoSizeParams(type="none"),
    padding={"left": 97, "top": 44, "right": 18, "bottom": 100},
).configure_view(stroke="black", strokeWidth=2)

chart.save("out.html", embed_options={"renderer": "svg", "actions": False})
